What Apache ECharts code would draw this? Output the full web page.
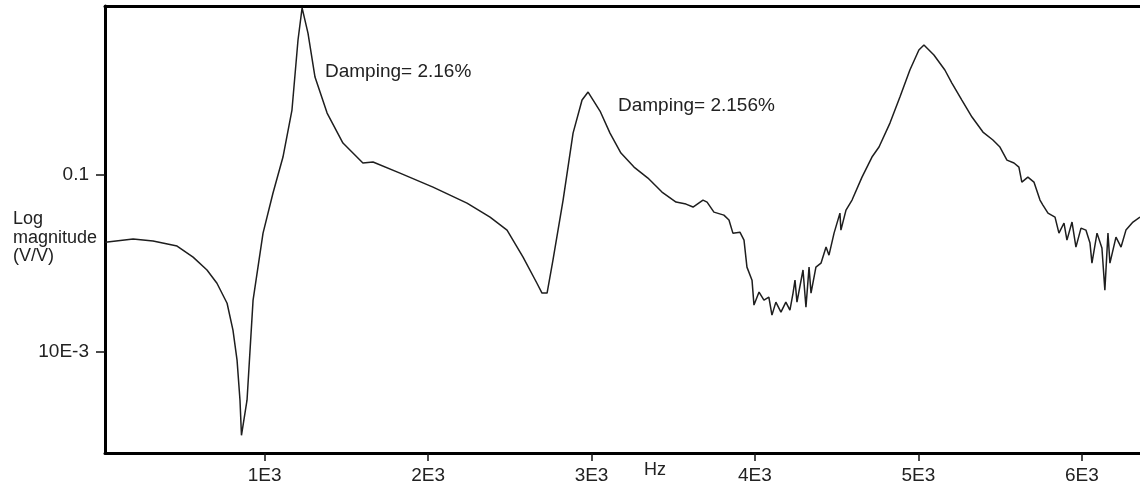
<!DOCTYPE html>
<html>
<head>
<meta charset="utf-8">
<script src="https://cdn.jsdelivr.net/npm/echarts@6/dist/echarts.min.js"></script>
<style>
html,body{margin:0;padding:0;background:#fff;}
#chart{width:1140px;height:487px;}
</style>
</head>
<body>
<div id="chart"></div>
<script>
const freqHz = [25,195,317,464,562,647,708,770,806,831,849,858,892,929,990,1051,1112,1167,1204,1229,1265,1308,1382,1479,1601,1663,1828,2030,2238,2379,2483,2581,2666,2697,2728,2764,2826,2887,2942,2979,3052,
3113,3180,3260,3345,3431,3517,3578,3621,3682,3707,3749,3810,3841,3865,3908,3933,3951,3982,3994,4025,4055,4085,4104,4128,4159,4189,4214,4233,4245,4257,4294,4312,4331,4343,4373,4404,4435,4453,4484,4520,4526,4557,4594,4655,4716,4759,4826,4887,4948,5003,5034,5095,5162,5205,5266,5328,5395,5456,5499,5542,5585,5615,5633,5670,5707,5744,5762,5793,5836,5860,5891,5909,5940,5964,5995,6025,6050,6062,6093,6123,6141,6160,6172,6209,6240,6270,6313,6356];
// Log magnitude (V/V) at each point
const magnitude = [0.0417,0.0434,0.0423,0.0396,0.0343,0.0290,0.0244,0.0188,0.01323,0.00895,0.00531,0.00336,0.00531,0.01957,0.0469,0.0791,0.1265,0.2335,0.582,0.884,0.637,0.359,0.2245,0.1518,0.117,0.1185,0.1026,0.0855,0.0694,0.0578,0.0488,0.0343,0.0244,0.02145,0.02145,0.033,0.0722,0.1729,0.266,0.2953,0.2305,
0.1729,0.1332,0.111,0.0962,0.0801,0.0703,0.0685,0.0659,0.0722,0.0703,0.0617,0.0593,0.0556,0.0469,0.0475,0.0428,0.0301,0.0254,0.01835,0.02174,0.01957,0.02036,0.0161,0.01908,0.01674,0.01908,0.01718,0.02145,0.0254,0.01908,0.029,0.01787,0.0301,0.02145,0.0301,0.0317,0.0391,0.0352,0.0469,0.0609,0.0488,0.0633,0.0722,0.0974,0.1265,0.1441,0.197,0.2766,0.3935,0.5107,0.545,0.4786,0.3935,0.332,0.266,0.2131,0.1752,0.1579,0.1441,0.1216,0.117,0.111,0.0913,0.0974,0.0913,0.0722,0.0676,0.0609,0.0578,0.0469,0.0535,0.0428,0.0542,0.0391,0.0501,0.0488,0.0412,0.0317,0.0469,0.0386,0.0223,0.0469,0.0317,0.0445,0.0391,0.0488,0.0542,0.0578];
// Axis ticks and labels
const xTickValues = [1000,2000,3000,4000,5000,6000];
const xTickLabels = ['1E3','2E3','3E3','4E3','5E3','6E3'];
const yTickValues = [0.1,0.01];
const yTickLabels = ['0.1','10E-3'];
const annotations = ['Damping= 2.16%','Damping= 2.156%'];

const FONT = 'Liberation Sans, Arial, sans-serif';
const chart = echarts.init(document.getElementById('chart'), null, {renderer:'canvas'});
const data = freqHz.map((f,i)=>[f, magnitude[i]]);

chart.setOption({
  animation:false,
  backgroundColor:'#fff',
  grid:{left:105, right:0, top:6, bottom:34, containLabel:false},
  xAxis:[{
    type:'value', min:23, max:6356, position:'bottom',
    axisLine:{show:true, lineStyle:{color:'#000', width:3}},
    axisTick:{show:true, length:8, customValues:xTickValues, lineStyle:{color:'#111', width:1.5}},
    axisLabel:{show:true, customValues:xTickValues, margin:13, fontFamily:FONT, fontSize:19, color:'#222',
      formatter:v=>{const i=xTickValues.indexOf(v); return i>=0?xTickLabels[i]:'';}},
    splitLine:{show:false}
  },{
    type:'value', min:23, max:6356, position:'top',
    axisLine:{show:true, lineStyle:{color:'#000', width:3}},
    axisTick:{show:false}, axisLabel:{show:false}, splitLine:{show:false}
  }],
  yAxis:{
    type:'log', logBase:10, min:0.002667, max:0.9067,
    axisLine:{show:true, lineStyle:{color:'#000', width:3}},
    axisTick:{show:true, length:9, customValues:yTickValues, lineStyle:{color:'#111', width:1.5}},
    axisLabel:{show:true, customValues:yTickValues, margin:16, fontFamily:FONT, fontSize:19, color:'#222',
      formatter:v=>{const l=Math.log10(v); if(Math.abs(l+1)<1e-6) return yTickLabels[0]; if(Math.abs(l+2)<1e-6) return yTickLabels[1]; return '';}},
    splitLine:{show:false}
  },
  series:[{
    type:'line', xAxisIndex:0, data:data, showSymbol:false, smooth:false,
    lineStyle:{color:'#1e1e1e', width:1.5}
  }],
  graphic:[
    {type:'text', left:13, top:210, style:{text:'Log\nmagnitude\n(V/V)', fontFamily:FONT, fontSize:18, lineHeight:18.5, fill:'#222'}},
    {type:'text', x:325, y:72, style:{text:annotations[0], fontFamily:FONT, fontSize:19, fill:'#222', verticalAlign:'middle', align:'left'}},
    {type:'text', x:618, y:106, style:{text:annotations[1], fontFamily:FONT, fontSize:19, fill:'#222', verticalAlign:'middle', align:'left'}},
    {type:'text', x:644, y:470, style:{text:'Hz', fontFamily:FONT, fontSize:18, fill:'#222', verticalAlign:'middle', align:'left'}}
  ]
});
</script>
</body>
</html>
